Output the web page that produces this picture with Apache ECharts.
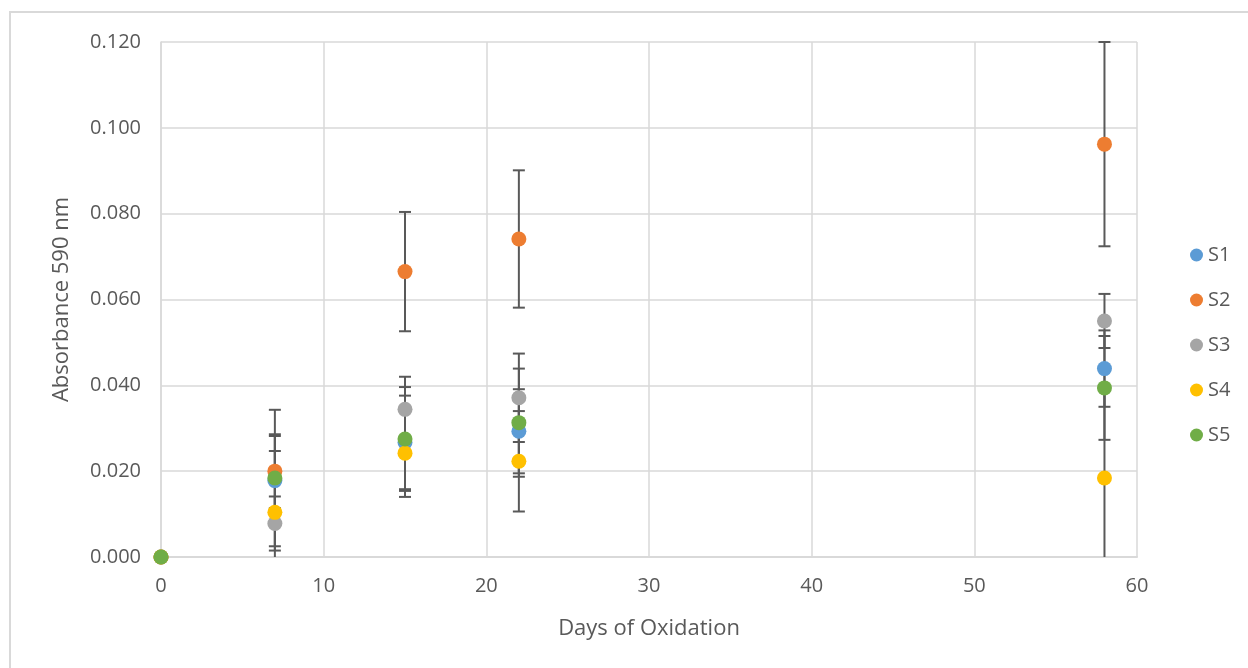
<!DOCTYPE html>
<html>
<head>
<meta charset="utf-8">
<script src="https://cdn.jsdelivr.net/npm/echarts@6/dist/echarts.min.js"></script>
<style>
html,body{margin:0;padding:0;background:#fff;}
#chart{width:1248px;height:668px;}
</style>
</head>
<body>
<div id="chart"></div>
<script>
// ---- data ----
var days = [0, 7, 15, 22, 58];
var seriesNames = ['S1', 'S2', 'S3', 'S4', 'S5'];
var S1 = [0, 0.0178, 0.0267, 0.0293, 0.0439];
var S2 = [0, 0.0200, 0.0665, 0.0741, 0.0962];
var S3 = [0, 0.0078, 0.0344, 0.0371, 0.0550];
var S4 = [0, 0.0104, 0.0242, 0.0223, 0.0184];
var S5 = [0, 0.0184, 0.0275, 0.0313, 0.0394];
var S1err = [0, 0.0104, 0.0109, 0.0098, 0.0089];
var S2err = [0, 0.0086, 0.0139, 0.0160, 0.0238];
var S3err = [0, 0.0063, 0.0076, 0.0103, 0.0063];
var S4err = [0, 0.0143, 0.0102, 0.0117, 0.0210];
var S5err = [0, 0.0159, 0.0121, 0.0126, 0.0121];
var yTicks = ['0.000', '0.020', '0.040', '0.060', '0.080', '0.100', '0.120'];
var xTicks = ['0', '10', '20', '30', '40', '50', '60'];

var values = [S1, S2, S3, S4, S5];
var errors = [S1err, S2err, S3err, S4err, S5err];
var colors = ['#5B9BD5', '#ED7D31', '#A5A5A5', '#FFC000', '#70AD47'];
var Y_MIN = 0, Y_MAX = 0.12;
var FONT = '"Open Sans", "Noto Sans", "Liberation Sans", sans-serif';

var chart = echarts.init(document.getElementById('chart'), null, {renderer: 'canvas'});

function errRender(params, api) {
  var x = api.value(0), y = api.value(1), e = api.value(2);
  if (!e) return null;
  var lo = y - e, hi = y + e;
  var loClip = lo < Y_MIN - 1e-9, hiClip = hi > Y_MAX + 1e-9;
  lo = Math.max(lo, Y_MIN); hi = Math.min(hi, Y_MAX);
  var pLo = api.coord([x, lo]), pHi = api.coord([x, hi]);
  var cw = 6;
  var st = {stroke: '#595959', lineWidth: 2};
  var children = [{type: 'line', shape: {x1: pLo[0], y1: pLo[1], x2: pHi[0], y2: pHi[1]}, style: st}];
  if (!hiClip) children.push({type: 'line', shape: {x1: pHi[0] - cw, y1: pHi[1], x2: pHi[0] + cw, y2: pHi[1]}, style: st});
  if (!loClip) children.push({type: 'line', shape: {x1: pLo[0] - cw, y1: pLo[1], x2: pLo[0] + cw, y2: pLo[1]}, style: st});
  return {type: 'group', children: children};
}

var series = [];
seriesNames.forEach(function (n, i) {
  series.push({
    name: n + ' error', type: 'custom', renderItem: errRender, z: 2, silent: true,
    data: days.map(function (d, k) { return [d, values[i][k], errors[i][k]]; })
  });
});
seriesNames.forEach(function (n, i) {
  series.push({
    name: n, type: 'scatter', symbol: 'circle', symbolSize: 15, z: 3 + i,
    itemStyle: {color: colors[i], opacity: 1},
    data: days.map(function (d, k) { return [d, values[i][k]]; })
  });
});

chart.setOption({
  animation: false,
  backgroundColor: '#fff',
  color: colors,
  graphic: [{
    type: 'rect', shape: {x: 10, y: 12, width: 1300, height: 700},
    style: {fill: 'none', stroke: '#d9d9d9', lineWidth: 2}, z: -10
  }],
  grid: {left: 161, top: 42, right: 111, bottom: 111, containLabel: false},
  legend: {
    data: seriesNames, orient: 'vertical', left: 1185, top: 240,
    icon: 'circle', itemWidth: 13, itemHeight: 13, itemGap: 25,
    textStyle: {color: '#595959', fontSize: 20, lineHeight: 20, fontFamily: FONT, padding: [0, 0, 0, 0]}
  },
  xAxis: {
    type: 'value', min: 0, max: 60, interval: 10,
    name: 'Days of Oxidation', nameLocation: 'middle', nameGap: 61,
    nameTextStyle: {color: '#595959', fontSize: 22, fontFamily: FONT},
    axisLine: {show: true, lineStyle: {color: '#d9d9d9', width: 2}},
    axisTick: {show: false},
    axisLabel: {color: '#595959', fontSize: 20, fontFamily: FONT, margin: 19,
      formatter: function (v) { return xTicks[Math.round(v / 10)]; }},
    splitLine: {show: true, lineStyle: {color: '#d9d9d9', width: 1.5}}
  },
  yAxis: {
    type: 'value', min: 0, max: 0.12, interval: 0.02,
    name: 'Absorbance 590 nm', nameLocation: 'middle', nameGap: 88,
    nameTextStyle: {color: '#595959', fontSize: 22, fontFamily: FONT},
    axisLine: {show: true, lineStyle: {color: '#d9d9d9', width: 1.5}},
    axisTick: {show: false},
    axisLabel: {color: '#595959', fontSize: 20, fontFamily: FONT, margin: 20,
      formatter: function (v) { return yTicks[Math.round(v / 0.02)]; }},
    splitLine: {show: true, lineStyle: {color: '#d9d9d9', width: 1.5}}
  },
  series: series
});
</script>
</body>
</html>
